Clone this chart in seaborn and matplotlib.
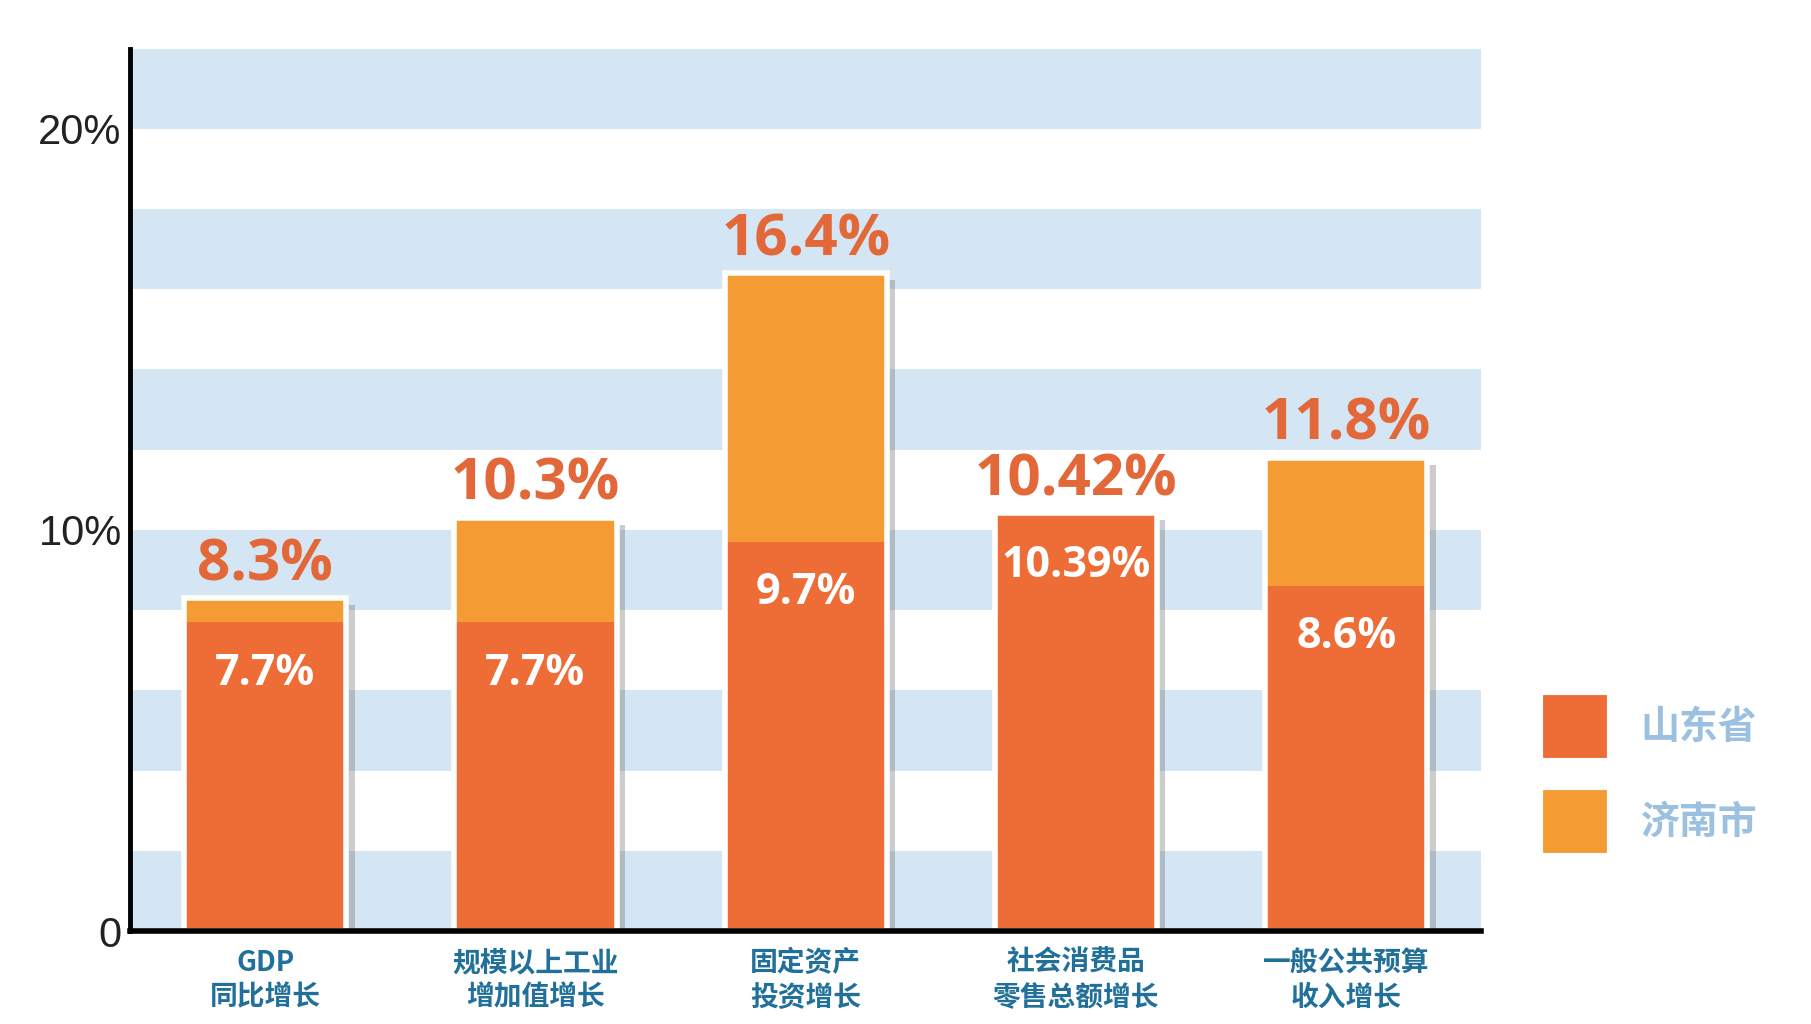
import numpy as np
import pandas as pd
import matplotlib.pyplot as plt
import matplotlib.patheffects as pe
from matplotlib.patches import Patch
import seaborn as sns

sns.set_style('white')
plt.rcParams['font.family'] = ['Noto Sans CJK SC', 'DejaVu Sans']

categories = ['GDP\n同比增长', '规模以上工业\n增加值增长', '固定资产\n投资增长',
              '社会消费品\n零售总额增长', '一般公共预算\n收入增长']
shandong = [7.7, 7.7, 9.7, 10.39, 8.6]
jinan = [8.3, 10.3, 16.4, 10.42, 11.8]
series_names = ['山东省', '济南市']
ytick_vals = [0, 10, 20]
ytick_labels = ['0', '10%', '20%']

c_sd = '#EE6C35'
c_jn = '#F49B33'
c_band = '#D4E5F3'
c_val = '#E2683A'
c_cat = '#21709A'
c_leg = '#9CC0E0'

df = pd.DataFrame({'cat': categories, 'sd': shandong, 'jn': jinan})
n = len(categories)

fig = plt.figure(figsize=(18.11, 10.24), dpi=100)
ax = fig.add_axes([0.0718, 0.0908, 0.7462, 0.8618])

# background stripes
for y0 in np.arange(0, 22, 4):
    ax.axhspan(y0, y0 + 2, color=c_band, zorder=0, lw=0)

start = len(ax.patches)
sns.barplot(data=df, x='cat', y='jn', color=c_jn, width=0.6, saturation=1,
            linewidth=0, ax=ax, zorder=2)
for p in ax.patches[start:]:
    p.set_path_effects([pe.SimplePatchShadow(offset=(6, -5), shadow_rgbFace='#6f6f6f', alpha=0.35),
                        pe.Normal()])
sns.barplot(data=df, x='cat', y='sd', color=c_sd, width=0.6, saturation=1,
            linewidth=0, ax=ax, zorder=3)
sns.barplot(data=df, x='cat', y='jn', color='white', width=0.6, fill=False,
            linewidth=4, ax=ax, zorder=4)
for p in ax.patches[-n:]:
    p.set_edgecolor('white')
    p.set_facecolor('none')

for i in range(n):
    ax.text(i, jinan[i] + 0.1, f'{jinan[i]}%', ha='center', va='bottom',
            fontsize=42, fontweight='bold', color=c_val, family='Open Sans', zorder=5)
    ax.text(i, shandong[i] - 1.27, f'{shandong[i]}%', ha='center', va='center',
            fontsize=31, fontweight='bold', color='white', family='Open Sans', zorder=5)

ax.set_xlim(-0.5, 4.5)
ax.set_ylim(0, 22)
ax.set_yticks(ytick_vals)
ax.set_yticklabels(ytick_labels, fontsize=30, color='#222222', family='Liberation Sans')
ax.set_xticks(range(n))
ax.set_xticklabels(categories, fontsize=20, fontweight='bold', color=c_cat, linespacing=1.3)
ax.tick_params(axis='both', length=0)
ax.tick_params(axis='x', pad=13)
ax.tick_params(axis='y', pad=6)
ax.set_xlabel('')
ax.set_ylabel('')

sns.despine(ax=ax, top=True, right=True)
ax.spines['left'].set_linewidth(3.5)
ax.spines['bottom'].set_linewidth(4)
ax.spines['left'].set_color('black')
ax.spines['bottom'].set_color('black')
ax.spines['left'].set_zorder(6)
ax.spines['bottom'].set_zorder(6)

handles = [Patch(facecolor=c_sd, edgecolor='white', linewidth=3),
           Patch(facecolor=c_jn, edgecolor='white', linewidth=3)]
leg = fig.legend(handles, series_names, loc='upper left', bbox_to_anchor=(0.851, 0.3236),
                 frameon=False, handlelength=1.75, handleheight=2.3, handletextpad=0.8,
                 labelspacing=0.7, borderpad=0, borderaxespad=0,
                 prop={'size': 28, 'weight': 'bold', 'family': 'Noto Sans CJK SC'})
for t in leg.get_texts():
    t.set_color(c_leg)

plt.savefig('out.png', dpi=100, facecolor='white')
